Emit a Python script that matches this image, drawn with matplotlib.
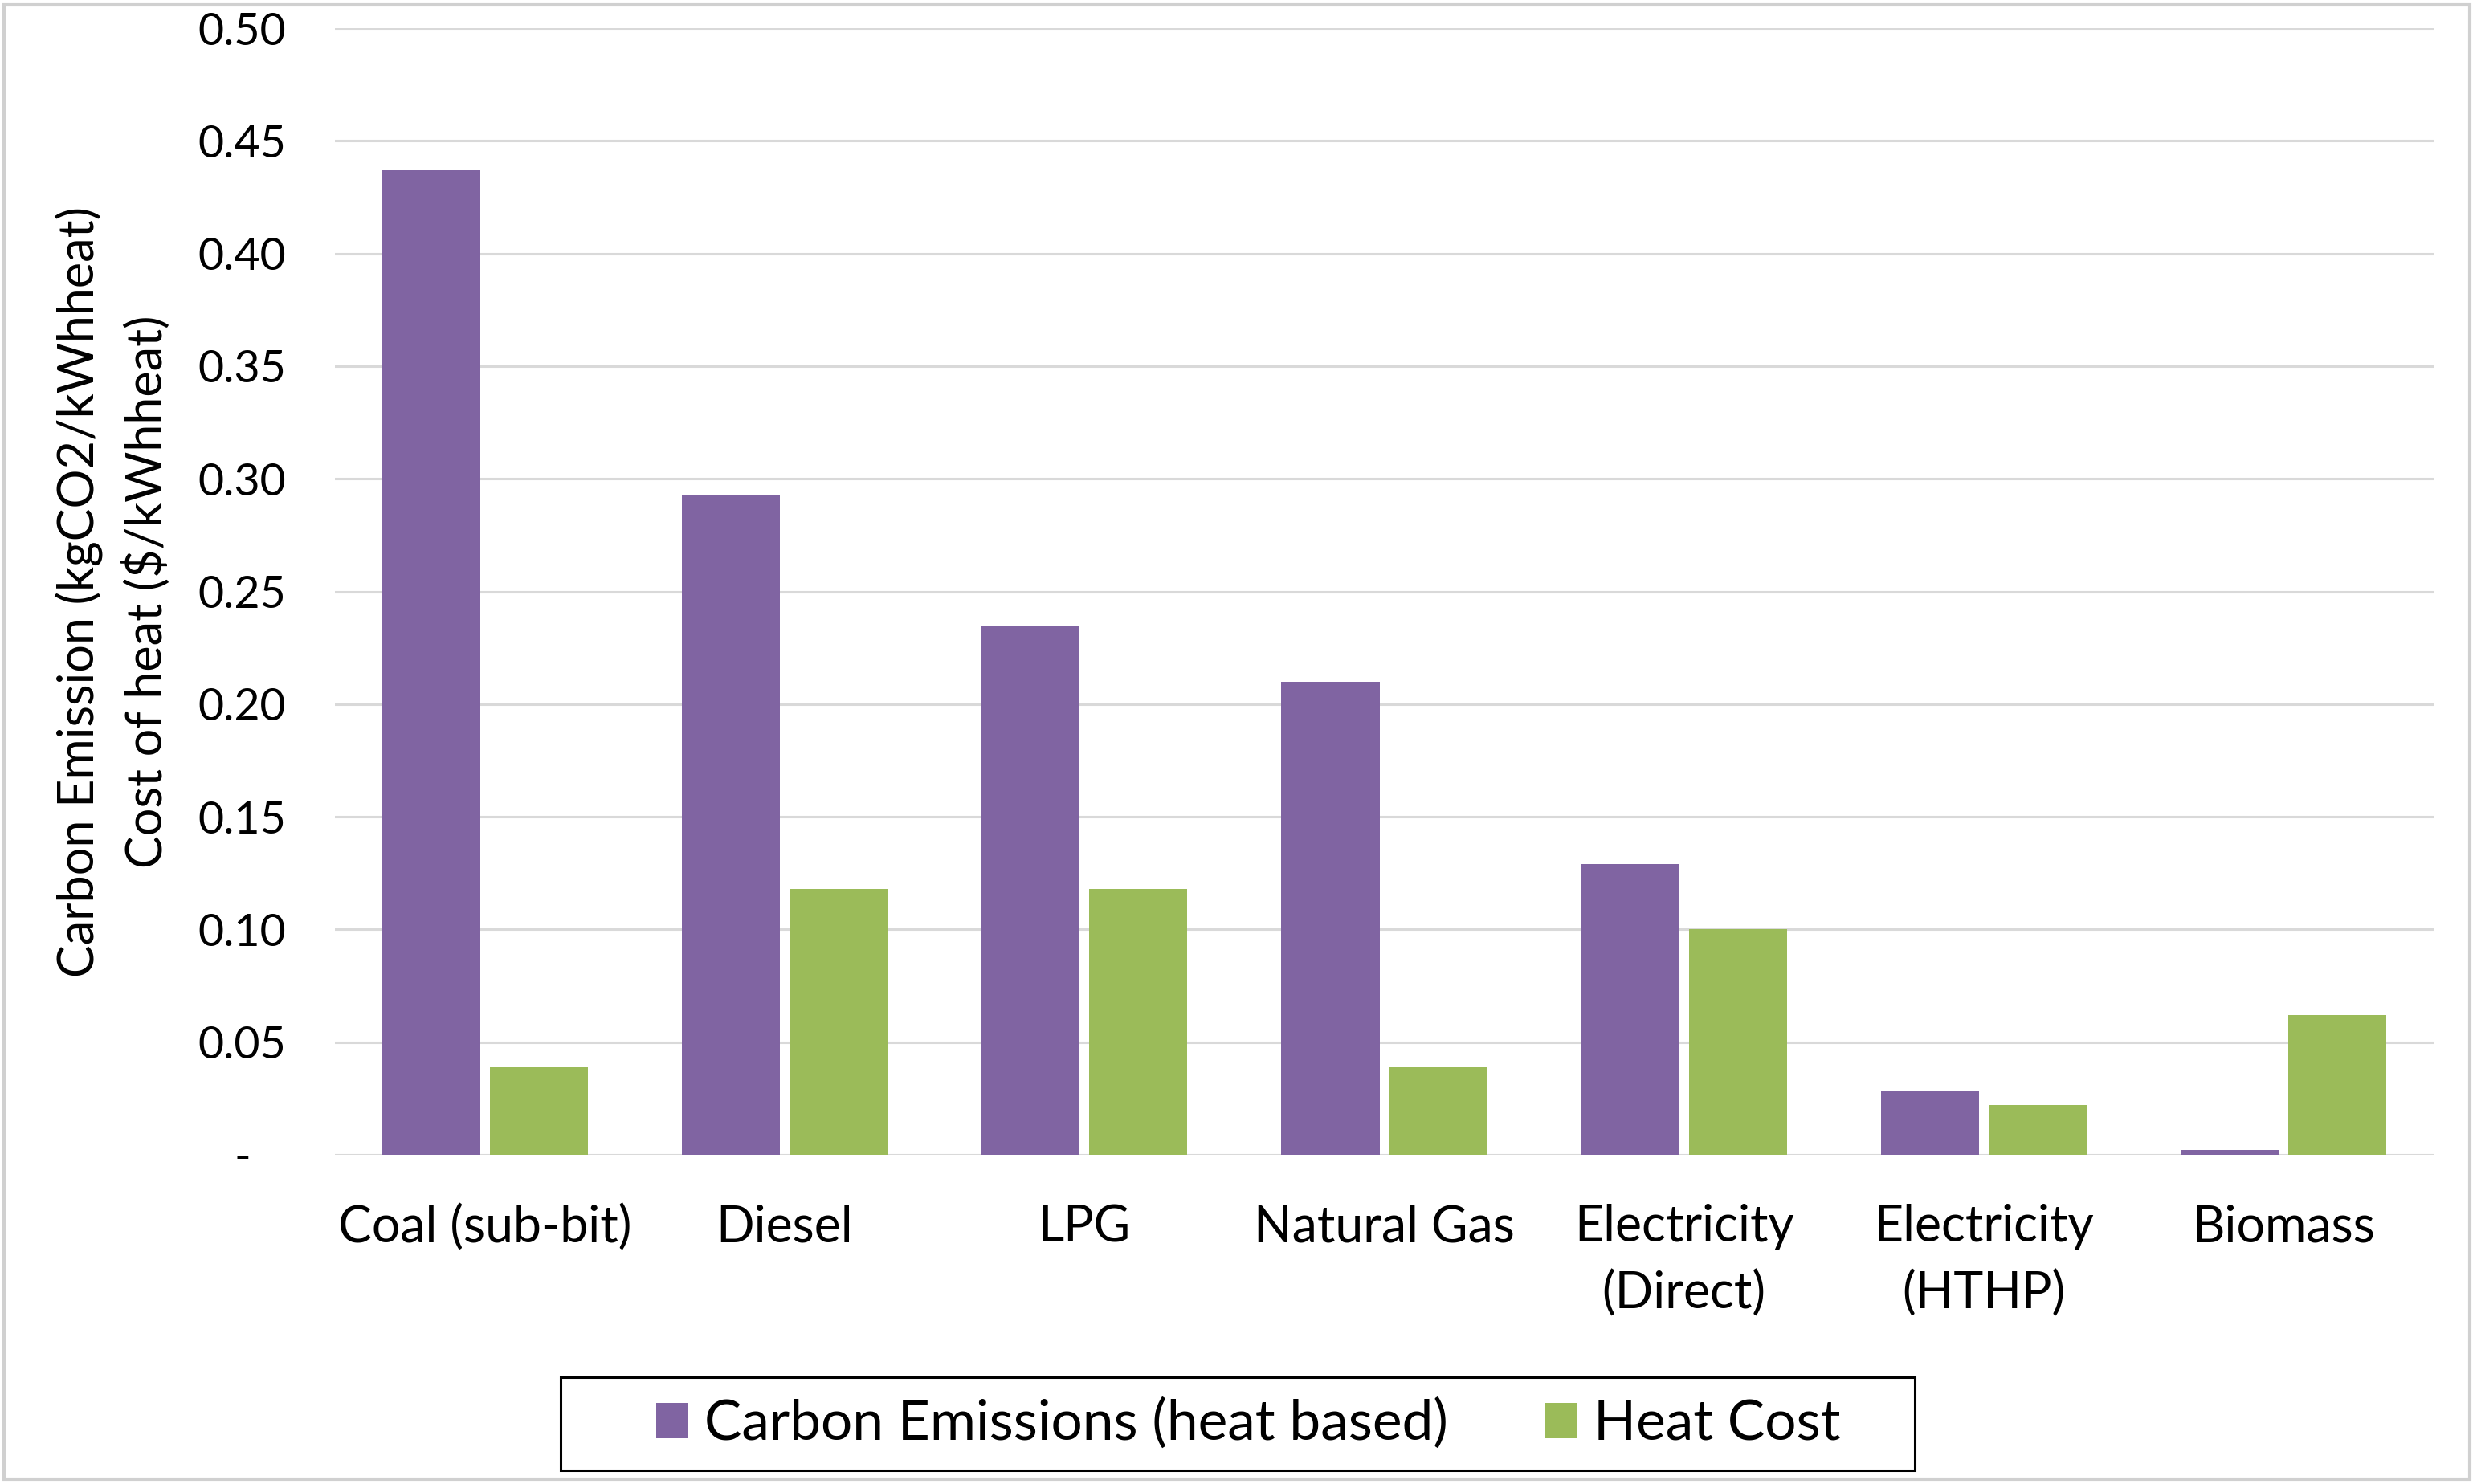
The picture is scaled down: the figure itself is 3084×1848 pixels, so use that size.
import matplotlib
matplotlib.use("Agg")
import matplotlib.pyplot as plt
import numpy as np
from matplotlib.patches import Rectangle, Patch

plt.rcParams['font.family'] = ['Lato', 'DejaVu Sans']

categories = ["Coal (sub-bit)", "Diesel", "LPG", "Natural Gas",
              "Electricity\n(Direct)", "Electricity\n(HTHP)", "Biomass"]
carbon_emissions = [0.437, 0.293, 0.235, 0.210, 0.129, 0.028, 0.002]
heat_cost = [0.039, 0.118, 0.118, 0.039, 0.100, 0.022, 0.062]
y_ticks = [0.0, 0.05, 0.10, 0.15, 0.20, 0.25, 0.30, 0.35, 0.40, 0.45, 0.50]
y_tick_labels = ["-   ", "0.05", "0.10", "0.15", "0.20", "0.25", "0.30",
                 "0.35", "0.40", "0.45", "0.50"]

purple = "#8064A2"
green = "#9BBB59"

fig = plt.figure(figsize=(30.84, 18.48), dpi=100)
ax = fig.add_axes([0.1352, 0.2219, 0.8473, 0.7591])

x = np.arange(len(categories))
w = 0.327
gap = 0.016
ax.bar(x - w / 2 - gap, carbon_emissions, width=w, color=purple,
       label="Carbon Emissions (heat based)", zorder=3)
ax.bar(x + w / 2 + gap, heat_cost, width=w, color=green,
       label="Heat Cost", zorder=3)

ax.set_xlim(-0.5, len(categories) - 0.5)
ax.set_ylim(0, 0.5)
ax.set_yticks(y_ticks)
ax.set_yticklabels(y_tick_labels, fontsize=40)
ax.set_xticks(x)
ax.set_xticklabels(categories, linespacing=1.5, fontsize=45)

ax.yaxis.grid(True, color="#D9D9D9", linewidth=2.2, zorder=0)
ax.set_axisbelow(True)
for s in ax.spines.values():
    s.set_visible(False)
ax.tick_params(axis="both", length=0, colors="black")
ax.tick_params(axis="y", pad=44)
ax.tick_params(axis="x", pad=44)

ax.set_ylabel("Carbon Emission (kgCO2/kWhheat)\nCost of heat ($/kWhheat)",
              fontsize=44, linespacing=1.48, labelpad=24)

handles = [Patch(facecolor=purple), Patch(facecolor=green)]
leg = fig.legend(handles, ["Carbon Emissions (heat based)", "Heat Cost"],
                 loc="center", bbox_to_anchor=(0.504, 0.0406),
                 ncol=2, fontsize=50, frameon=False,
                 handlelength=0.58, handleheight=0.6, handletextpad=0.29,
                 columnspacing=1.74, borderpad=0.2)

# legend outline box
fig.patches.append(Rectangle((0.2263, 0.0092), 0.5467, 0.0628, transform=fig.transFigure,
                             fill=False, edgecolor="black", linewidth=2.2))

# thin frame around the whole chart area
fig.patches.append(Rectangle((0.0015, 0.003), 0.9955, 0.994, transform=fig.transFigure,
                             fill=False, edgecolor="#D0D0D0", linewidth=3))

fig.savefig("out.png", dpi=100, facecolor="white")
